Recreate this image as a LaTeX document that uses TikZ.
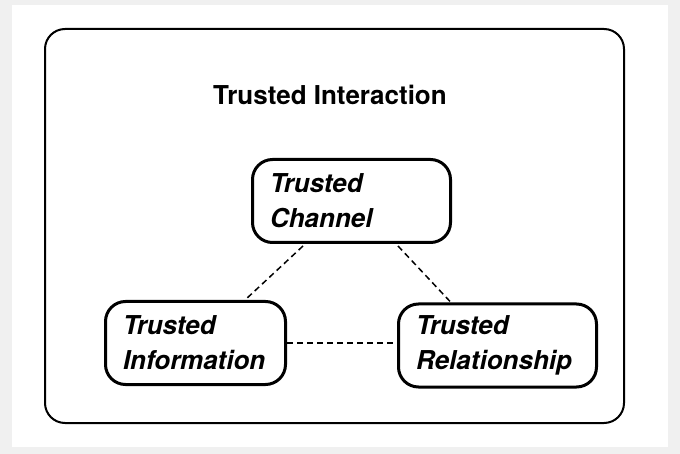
\documentclass[tikz,border=0pt]{standalone}
\usepackage{fontspec}
\setmainfont{TeX Gyre Heros}
\usetikzlibrary{positioning}

\begin{document}
\begin{tikzpicture}[x=1pt, y=-1pt,
  trust/.style={draw, line width=3pt, rounded corners=20pt, minimum height=83pt,
    inner xsep=17.5pt, align=left, font=\fontsize{26}{35}\selectfont\bfseries\itshape},
  link/.style={dashed, line width=1.5pt, dash pattern=on 6pt off 4pt}]
\useasboundingbox (0,0) rectangle (680,454);
\fill[black!6] (0,0) rectangle (680,454);
\fill[white] (12,5) rectangle (668,447);
% frame
\draw[line width=2pt, rounded corners=20pt] (45,29) rectangle (624,423);
\node[anchor=base, font=\fontsize{26}{30}\selectfont\bfseries] (title) at (330,105) {Trusted Interaction};
% the three parts
\node[trust, text width=163pt] (chan) at (351.5,201) {Trusted\\Channel};
\node[trust, text width=145pt] (info) at (195.5,343) {Trusted\\Information};
\node[trust, text width=163pt, right=110pt of info, yshift=-2.5pt] (rel) {Trusted\\Relationship};
\draw[link] ([xshift=-48.5pt, yshift=-2pt]chan.south) -- ([xshift=49.5pt]info.north);
\draw[link] ([xshift=46.5pt, yshift=-2pt]chan.south) -- ([xshift=-46.5pt]rel.north);
\draw[link] (info.east) -- (info.east -| rel.west);
\end{tikzpicture}
\end{document}
